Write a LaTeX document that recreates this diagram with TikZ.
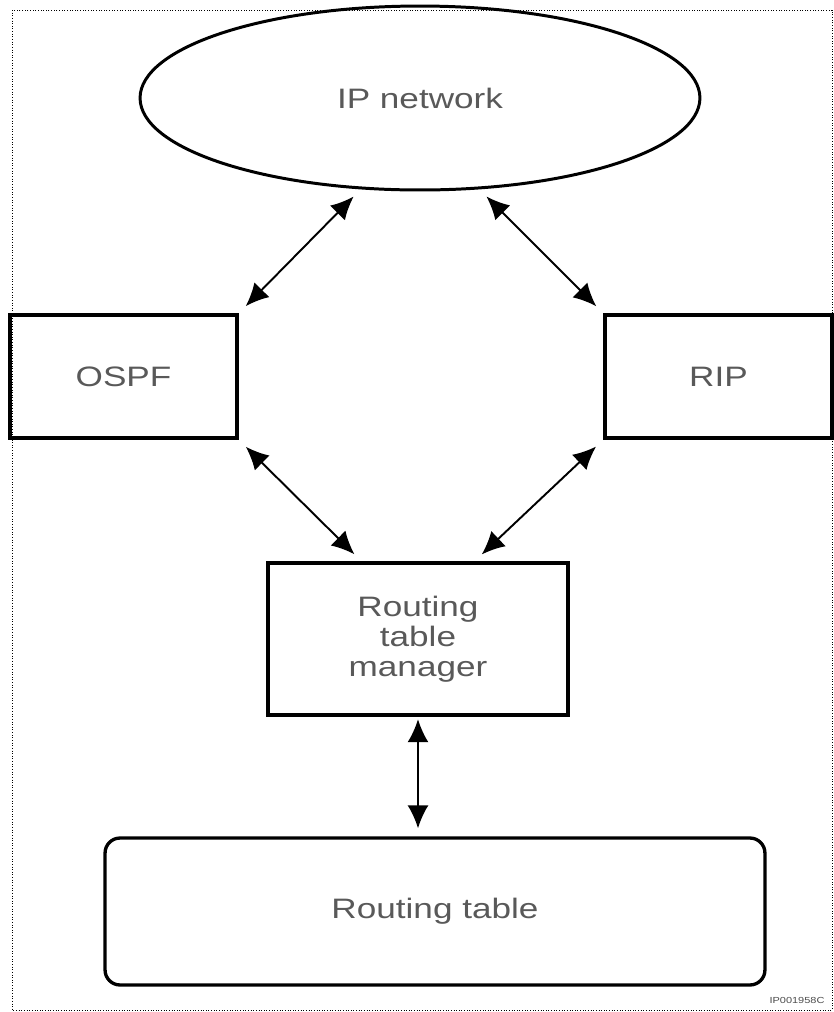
\documentclass[tikz,border=0pt]{standalone}
\usepackage{fontspec}
\setmainfont{Liberation Sans}[FakeStretch=1.25]
\usetikzlibrary{shapes,arrows.meta,positioning,calc}

\begin{document}
\begin{tikzpicture}[x=0.02cm, y=-0.02cm,
  box/.style={rectangle, draw, line width=1.9pt, text=black!65, align=center, inner sep=0pt, font=\fontsize{16}{17}\selectfont},
  link/.style={{Latex[length=4.6mm,width=4.2mm]}-{Latex[length=4.6mm,width=4.2mm]}, line width=1.1pt, shorten >=0.2cm, shorten <=0.2cm}]
\useasboundingbox (0,0) rectangle (834,1012);
\draw[densely dotted, line width=0.5pt] (12,10) rectangle (832,1010);
\node[box, ellipse, line width=1.7pt, minimum width=11.2cm, minimum height=3.68cm] (net) at (420,98) {IP network};
\node[box, minimum width=4.54cm, minimum height=2.46cm] (ospf) at (123.5,376.5) {OSPF};
\node[box, minimum width=4.54cm, minimum height=2.46cm] (rip) at (718.5,376.5) {RIP};
\node[box, minimum width=6cm, minimum height=3.04cm] (mgr) at (418,639) {Routing\\table\\manager};
\node[box, rounded corners=0.3cm, minimum width=13.2cm, minimum height=2.94cm] (rt) at (435,911.5) {Routing table};
\node[font=\fontsize{5}{6}\selectfont, text=black!70, inner sep=0pt] (figid) at (797,1000) {IP001958C};
\draw[link] (net.237) -- (ospf.north east);
\draw[link] (net.303) -- (rip.north west);
\draw[link] (ospf.south east) -- (mgr.126);
\draw[link] (rip.south west) -- (mgr.54);
\draw[link, shorten <=0.05cm, shorten >=0.16cm] (mgr.south) -- (mgr.south |- rt.north);
\end{tikzpicture}
\end{document}
